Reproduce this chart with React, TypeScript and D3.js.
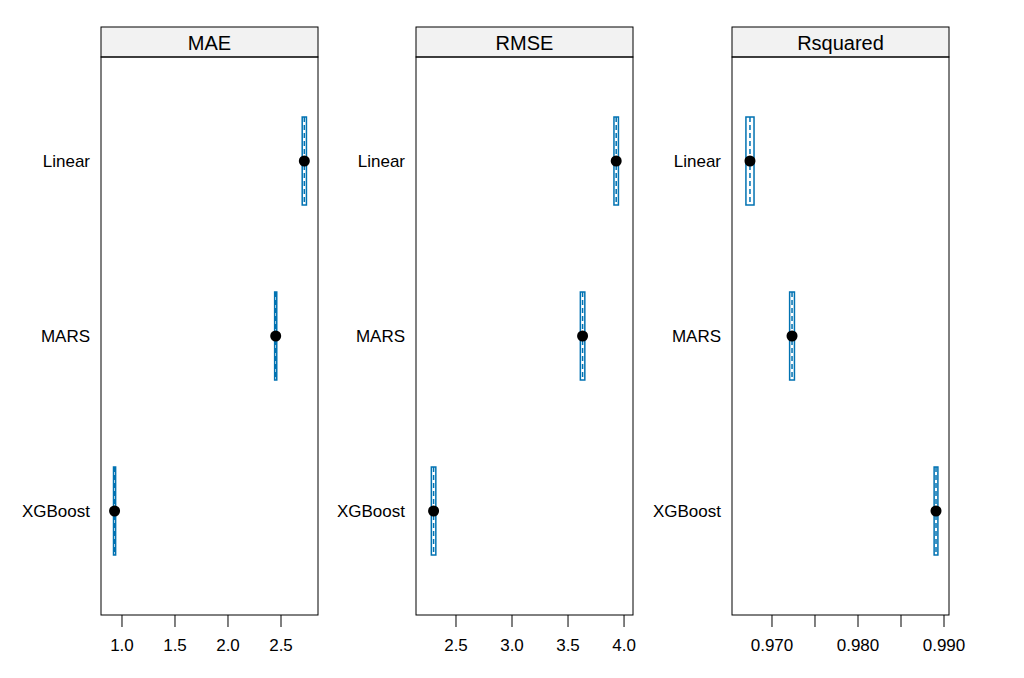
import * as d3 from 'd3';

const models = ['Linear', 'MARS', 'XGBoost'];
const metrics = ['MAE', 'RMSE', 'Rsquared'];
const estimates = [
  [2.72, 2.45, 0.93],
  [3.93, 3.63, 2.3],
  [0.96744, 0.97233, 0.98907],
];
const lowers = [
  [2.70, 2.44, 0.92],
  [3.91, 3.61, 2.28],
  [0.96697, 0.97205, 0.98885],
];
const uppers = [
  [2.74, 2.46, 0.94],
  [3.95, 3.65, 2.32],
  [0.96791, 0.97261, 0.98929],
];
const domains = [
  [0.802, 2.849],
  [2.143, 4.08],
  [0.96535, 0.99058],
];
const ticks = [
  [1.0, 1.5, 2.0, 2.5],
  [2.5, 3.0, 3.5, 4.0],
  [0.97, 0.975, 0.98, 0.985, 0.99],
];
const tickLabels = [
  ['1.0', '1.5', '2.0', '2.5'],
  ['2.5', '3.0', '3.5', '4.0'],
  ['0.970', '', '0.980', '', '0.990'],
];

const panelLeft = [101, 416, 732];
const panelW = 217;
const top = 27;
const stripH = 30;
const bottom = 615;
const blue = '#0072B2';

export default function App() {
  const y = d3.scalePoint<string>().domain(models).range([161, 511]);
  return (
    <svg width={1024} height={678} style={{ position: 'absolute', left: 0, top: 0, background: '#fff' }}
      fontFamily="Liberation Sans, Arial, sans-serif">
      {metrics.map((m, p) => {
        const x0 = panelLeft[p];
        const x = d3.scaleLinear().domain(domains[p]).range([x0, x0 + panelW]);
        return (
          <g key={m}>
            <rect x={x0} y={top} width={panelW} height={stripH} fill="#f2f2f2" stroke="#000" />
            <text x={x0 + panelW / 2} y={top + 23} textAnchor="middle" fontSize={20}>{m}</text>
            <rect x={x0} y={top + stripH} width={panelW} height={bottom - top - stripH} fill="none" stroke="#000" />
            {models.map((mod, i) => {
              const cy = y(mod)!;
              const xl = x(lowers[p][i]);
              const xu = x(uppers[p][i]);
              const xc = x(estimates[p][i]);
              return (
                <g key={mod}>
                  <text x={x0 - 11} y={cy + 6} textAnchor="end" fontSize={17}>{mod}</text>
                  <rect x={xl} y={cy - 44} width={Math.max(xu - xl, 1)} height={88} fill="none" stroke={blue} strokeWidth={1.5} />
                  <line x1={xc} x2={xc} y1={cy - 44} y2={cy + 44} stroke={blue} strokeWidth={1.5} strokeDasharray="5,3" />
                  <circle cx={xc} cy={cy} r={5.5} fill="#000" />
                </g>
              );
            })}
            {ticks[p].map((t, i) => (
              <g key={i}>
                <line x1={x(t)} x2={x(t)} y1={bottom} y2={bottom + 12} stroke="#000" />
                <text x={x(t)} y={bottom + 36} textAnchor="middle" fontSize={17}>{tickLabels[p][i]}</text>
              </g>
            ))}
          </g>
        );
      })}
    </svg>
  );
}
